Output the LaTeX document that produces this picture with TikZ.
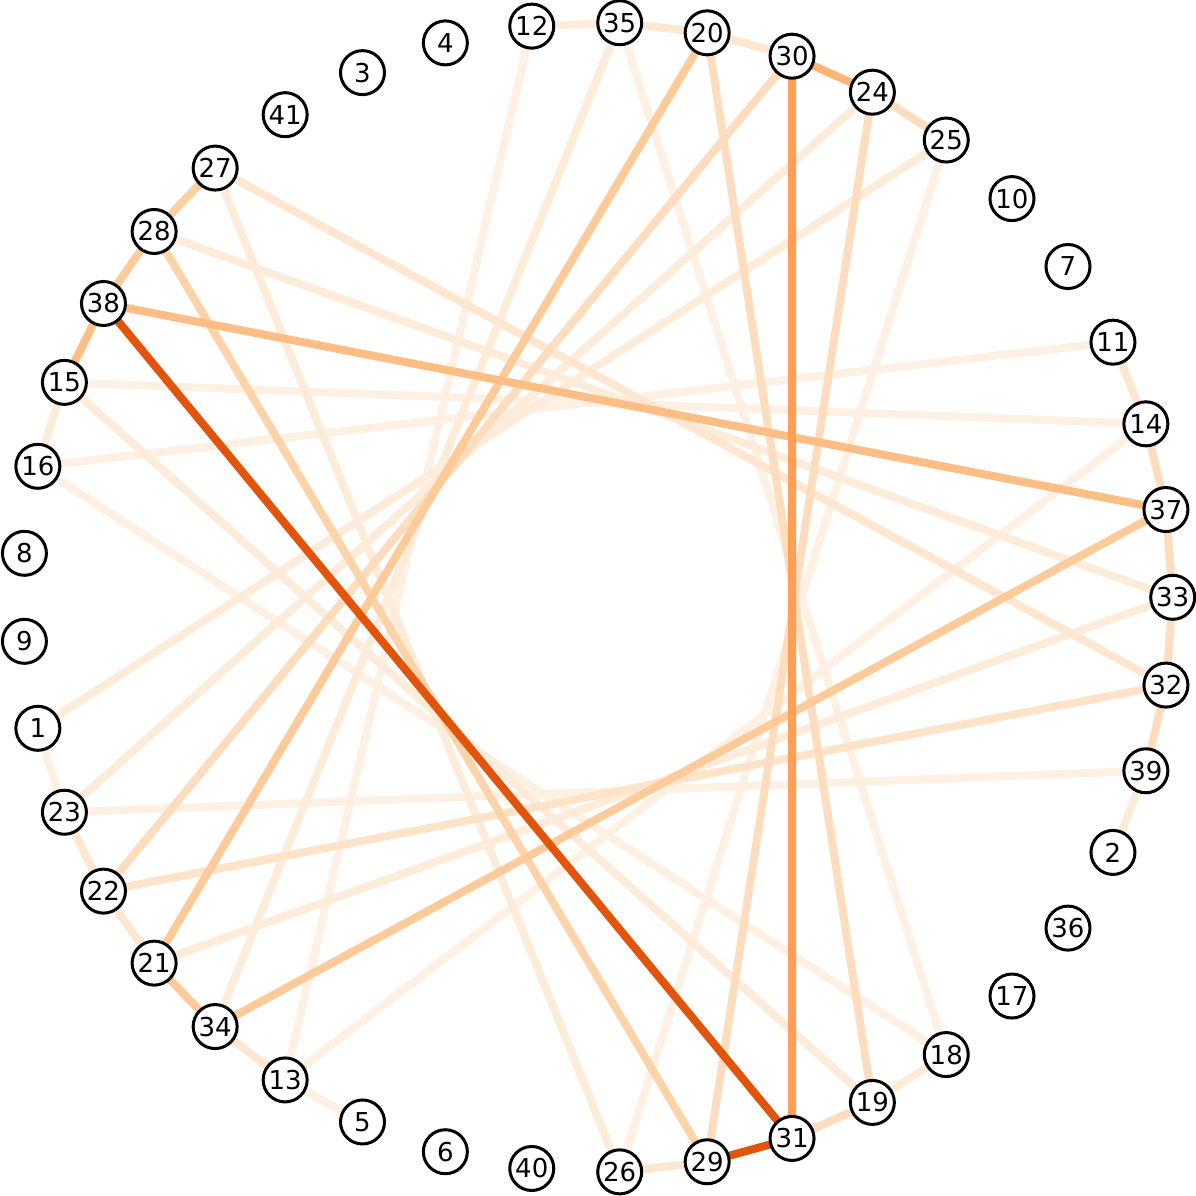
\documentclass[tikz,border=0pt]{standalone}
\usepackage{fontspec}
\setmainfont{DejaVu Sans}
\pgfdeclarelayer{bg}
\pgfsetlayers{bg,main}
\definecolor{cA}{HTML}{E1540A}
\definecolor{cB}{HTML}{FD9F55}
\definecolor{cC}{HTML}{FDBE85}
\definecolor{cCb}{HTML}{FDB577}
\definecolor{cD}{HTML}{FDCB9A}
\definecolor{cDb}{HTML}{FDD0A2}
\definecolor{cDc}{HTML}{FDD4AA}
\definecolor{cE}{HTML}{FDDDBD}
\definecolor{cEb}{HTML}{FDE3C8}
\definecolor{cF}{HTML}{FEE7D0}
\definecolor{cG}{HTML}{FEECDA}
\definecolor{cH}{HTML}{FEF1E4}
\newcommand{\vtxfont}{\fontsize{13pt}{13pt}\selectfont}
\begin{document}
\begin{tikzpicture}[x=0.5pt,y=-0.5pt,
  vtx/.style={circle, draw=black, line width=1.5pt, fill=white, minimum size=22pt, inner sep=0pt, font=\vtxfont},
  edge/.style={line width=4pt}]
\useasboundingbox (0,0) rectangle (1196,1196);
\foreach \lab [count=\k from 0] in {33,37,14,11,7,10,25,24,30,20,35,12,4,3,41,27,28,38,15,16,8,9,1,23,22,21,34,13,5,6,40,26,29,31,19,18,17,36,2,39,32}{
  \node[vtx] (n\lab) at ({597.7+575*cos(\k*360/41)},{597.3-575*sin(\k*360/41)}) {\lab};
}
\begin{pgfonlayer}{bg}
% lightest
\foreach \a/\b in {12/13,35/18,11/16,15/14,16/18,13/5,13/14,23/39,25/26,1/23}
  \draw[edge,cH] (n\a.center) -- (n\b.center);
\foreach \a/\b in {35/34,27/26,12/35,25/1,24/23,19/18,39/2,15/16,15/19,33/21,28/33}
  \draw[edge,cG] (n\a.center) -- (n\b.center);
\foreach \a/\b in {35/20,20/30,11/14,27/32,23/22,22/21,34/13,26/29}
  \draw[edge,cF] (n\a.center) -- (n\b.center);
\draw[edge,cEb] (n32.center) -- (n22.center);
\foreach \a/\b in {30/22,20/19,24/29,24/25,33/32,32/39,37/33,14/37,31/19}
  \draw[edge,cE] (n\a.center) -- (n\b.center);
\draw[edge,cDc] (n28.center) -- (n29.center);
\draw[edge,cDb] (n27.center) -- (n28.center);
\foreach \a/\b in {20/21,37/34,21/34,28/38}
  \draw[edge,cD] (n\a.center) -- (n\b.center);
\draw[edge,cC] (n38.center) -- (n37.center);
\draw[edge,cC] (n38.center) -- (n15.center);
\draw[edge,cCb] (n30.center) -- (n24.center);
\draw[edge,cB] (n30.center) -- (n31.center);
\draw[edge,cA] (n38.center) -- (n31.center);
\draw[edge,cA] (n29.center) -- (n31.center);
\end{pgfonlayer}
\end{tikzpicture}
\end{document}
